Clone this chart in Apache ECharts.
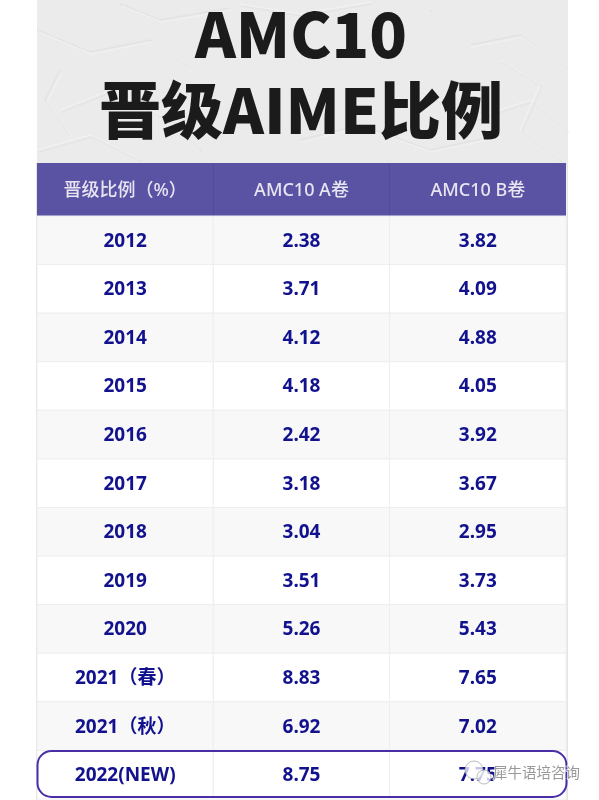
<!DOCTYPE html>
<html><head><meta charset="utf-8">
<style>html,body{margin:0;padding:0;background:#fff}#c{width:599px;height:800px}</style>
<script src="https://cdn.jsdelivr.net/npm/echarts@6/dist/echarts.min.js"></script></head>
<body><div id="c"></div>
<script>
const columns = ['晋级比例（%）', 'AMC10 A卷', 'AMC10 B卷'];
const years = ['2012','2013','2014','2015','2016','2017','2018','2019','2020','2021（春）','2021（秋）','2022(NEW)'];
const paperA = ['2.38','3.71','4.12','4.18','2.42','3.18','3.04','3.51','5.26','8.83','6.92','8.75'];
const paperB = ['3.82','4.09','4.88','4.05','3.92','3.67','2.95','3.73','5.43','7.65','7.02','7.75'];
const titleLines = ['AMC10', '晋级AIME比例'];
const watermark = '犀牛语培咨询';

const FONT = '"Noto Sans","Noto Sans CJK SC",sans-serif';
const TITLE_FONT = '"Noto Sans CJK SC","Noto Sans",sans-serif';
const cells = [];
years.forEach((y, r) => {
  cells.push([0, r, y]);
  cells.push([1, r, paperA[r]]);
  cells.push([2, r, paperB[r]]);
});
// decorative creases of the crumpled-paper backdrop
const creases = [
  [[37,30],[90,52],[150,40],[190,70]],
  [[60,110],[110,90],[170,120],[200,150]],
  [[430,10],[470,45],[520,35],[567,70]],
  [[420,90],[470,120],[530,100],[567,130]],
  [[120,4],[160,20],[230,8]],
  [[37,150],[90,135],[140,160]],
  [[300,140],[360,125],[430,150],[500,135]],
  [[500,60],[540,85],[520,130],[560,160]],
  [[60,70],[45,100],[70,135]],
  [[240,4],[300,14],[370,2]]
];
const creaseGraphics = [];
creases.forEach((pts, i) => {
  creaseGraphics.push({type:'polyline',z:-8,silent:true,shape:{points:pts},
    style:{fill:'none',stroke:i%2?'#f7f7f7':'#dcdcdc',lineWidth:1.4,opacity:0.5}});
  creaseGraphics.push({type:'polyline',z:-8,silent:true,x:2,y:2,shape:{points:pts},
    style:{fill:'none',stroke:i%2?'#dedede':'#f6f6f6',lineWidth:1.4,opacity:0.45}});
});
const chart = echarts.init(document.getElementById('c'), null, {renderer:'canvas'});
chart.setOption({
  animation:false,
  backgroundColor:'#ffffff',
  grid:{left:37,right:33,top:216,bottom:1,containLabel:false},
  xAxis:{type:'category',position:'top',data:columns,boundaryGap:true,
    axisLine:{show:false},axisTick:{show:false},splitLine:{show:false},
    axisLabel:{color:'#e8e5f2',fontFamily:FONT,fontWeight:500,fontSize:18,margin:16,interval:0}},
  yAxis:{type:'category',inverse:true,data:years,show:false},
  graphic:[
    {type:'rect',z:-10,silent:true,shape:{x:37,y:0,width:531,height:166},style:{fill:'#ebebeb'}},
    ...creaseGraphics,
    {type:'rect',z:-7,silent:true,shape:{x:37,y:163,width:529,height:53},style:{fill:'#5a52a3'}},
    {type:'rect',z:-6,silent:true,shape:{x:36,y:163,width:1,height:637},style:{fill:'#e4e4e4'}},
    {type:'rect',z:-6,silent:true,shape:{x:566.5,y:163,width:1.5,height:637},style:{fill:'#e4e4e4'}},
    {type:'rect',z:-6,silent:true,shape:{x:213,y:163,width:1,height:53},style:{fill:'#534a9c'}},
    {type:'rect',z:-6,silent:true,shape:{x:389,y:163,width:1,height:53},style:{fill:'#534a9c'}},
    {type:'text',z:10,silent:true,style:{x:301,y:34,text:titleLines[0],fill:'#1b1b1b',font:'900 62px '+TITLE_FONT,textAlign:'center',textVerticalAlign:'middle'}},
    {type:'text',z:10,silent:true,style:{x:301,y:110,text:titleLines[1],fill:'#1b1b1b',font:'900 62px '+TITLE_FONT,textAlign:'center',textVerticalAlign:'middle'}},
    {type:'rect',z:20,silent:true,shape:{x:37.5,y:751,width:529,height:46,r:14},style:{fill:'none',stroke:'#4a2ea8',lineWidth:2}},
    {type:'circle',z:21,silent:true,shape:{cx:474,cy:770,r:9},style:{fill:'rgba(255,255,255,0.75)',stroke:'rgba(160,160,160,0.7)',lineWidth:1}},
    {type:'circle',z:21,silent:true,shape:{cx:484,cy:777,r:7},style:{fill:'rgba(255,255,255,0.75)',stroke:'rgba(160,160,160,0.7)',lineWidth:1}},
    {type:'text',z:22,silent:true,style:{x:580,y:772,text:watermark,fill:'#999999',stroke:'rgba(255,255,255,0.8)',lineWidth:1.5,font:'400 14.5px "Noto Sans CJK SC",sans-serif',textAlign:'right',textVerticalAlign:'middle'}}
  ],
  series:[{
    type:'custom',
    coordinateSystem:'cartesian2d',
    data:cells,
    encode:{x:0,y:1},
    clip:false,
    renderItem:function(params,api){
      const c=api.coord([api.value(0),api.value(1)]);
      const s=api.size([1,1]);
      const r=api.value(1);
      return {type:'group',children:[
        {type:'rect',shape:{x:c[0]-s[0]/2,y:c[1]-s[1]/2,width:s[0],height:s[1]},
         style:{fill:r%2===0?'#f8f8f8':'#ffffff',stroke:'#eeeeee',lineWidth:1}},
        {type:'text',style:{x:c[0],y:c[1]+1,text:cells[params.dataIndex][2],fill:'#12128f',font:'bold 19px '+FONT,textAlign:'center',textVerticalAlign:'middle'}}
      ]};
    }
  }]
});
</script></body></html>
